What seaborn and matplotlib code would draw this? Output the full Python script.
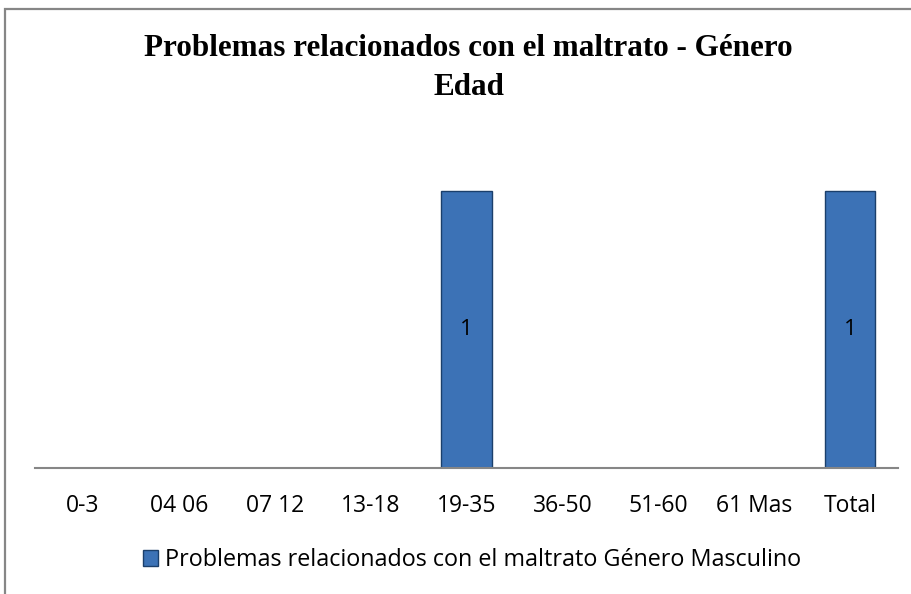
import pandas as pd
import seaborn as sns
import matplotlib.pyplot as plt
from matplotlib.patches import Rectangle, Patch

# Chart data
categorias = ['0-3', '04 06', '07 12', '13-18', '19-35', '36-50', '51-60', '61 Mas', 'Total']
valores = [0, 0, 0, 0, 1, 0, 0, 0, 1]
serie = 'Problemas relacionados con el maltrato Género Masculino'
titulo = 'Problemas relacionados con el maltrato - Género\nEdad'

df = pd.DataFrame({'Edad': categorias, 'Casos': valores})

sns.set_theme(style="white")
plt.rcParams['font.family'] = ['Open Sans', 'DejaVu Sans']
plt.rcParams['text.color'] = 'black'
plt.rcParams['xtick.color'] = 'black'

bar_color = "#3C72B6"
edge_color = "#1B3F6B"
grey = "#868686"

fig = plt.figure(figsize=(9.12, 5.94), dpi=100)
ax = fig.add_axes([35 / 912, 1 - 468 / 594, 863 / 912, 333 / 594])

sns.barplot(data=df, x='Edad', y='Casos', color=bar_color, width=0.53,
            saturation=1, edgecolor=edge_color, linewidth=1, ax=ax)

# hide empty bars so they leave no edge on the baseline
for p in ax.patches:
    if p.get_height() == 0:
        p.set_visible(False)

ax.bar_label(ax.containers[0], labels=[str(v) if v else '' for v in valores],
             label_type='center', fontsize=16, color='black')

ax.set_ylim(0, 1.2)
ax.set_xlim(-0.5, len(categorias) - 0.5)
ax.set_yticks([])
ax.set_xlabel(None)
ax.set_ylabel(None)
ax.tick_params(axis='x', length=0, pad=19, labelsize=16.5, labelcolor='black')
for s in ['top', 'right', 'left']:
    ax.spines[s].set_visible(False)
ax.spines['bottom'].set_color(grey)
ax.spines['bottom'].set_linewidth(1.5)

fig.text(0.514, 1 - 95 / 594, titulo, ha='center', va='baseline',
         fontsize=22.4, fontweight='bold', family='Liberation Serif',
         linespacing=1.45, color='black')

fig.legend(handles=[Patch(facecolor=bar_color, edgecolor=edge_color, label=serie)],
           loc='center', bbox_to_anchor=(0.5175, 1 - 560 / 594), frameon=False,
           fontsize=16.8, handlelength=0.65, handleheight=0.65, handletextpad=0.3,
           labelcolor='black')

# chart area border (cut at right/bottom as in the source)
fig.add_artist(Rectangle((5 / 912, -0.1), 1.2, 1 - 9 / 594 + 0.1,
                         transform=fig.transFigure, fill=False,
                         edgecolor=grey, linewidth=1.6))

fig.savefig('out.png', dpi=100)
